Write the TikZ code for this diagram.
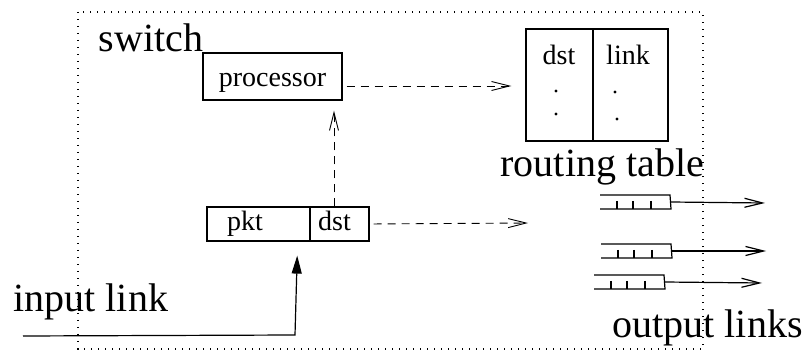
\documentclass[tikz,border=0pt]{standalone}
\usepackage{fontspec}
\setmainfont{Liberation Serif}
\usetikzlibrary{arrows.meta}
\begin{document}
\begin{tikzpicture}[x=0.5pt,y=-0.5pt,
  line width=0.6pt,
  box/.style={draw, inner sep=0pt},
  big/.style={font=\rmfamily\fontsize{20}{24}\selectfont, inner sep=0pt},
  small/.style={font=\rmfamily\fontsize{14}{17}\selectfont, inner sep=0pt},
  dashline/.style={line width=0.45pt, dash pattern=on 4pt off 3pt},
  opentip/.style={-{Straight Barb[length=9pt,width=4.5pt]}},
  frame/.style={line width=0.6pt, dash pattern=on 0.7pt off 2.8pt},
  queue/.pic={
    \draw (0,0) -- (70,0) -- (71,14) -- (0,14);
    \foreach \t in {17,33,51} \draw (\t,6) -- (\t,14);
    \coordinate (-out) at (70.5,7);
  }]
\useasboundingbox (0,0) rectangle (809,352);

% switch enclosure
\draw[frame] (78,12) rectangle (703,349);
\node[big, anchor=base west] (switchlabel) at (98,52) {switch};

% processor
\node[box, minimum width=69.5pt, minimum height=23.5pt] (proc) at (272.5,76.5) {};
\node[small, anchor=base] (proclabel) at (272.5,87) {processor};

% routing table
\node[box, minimum width=71pt, minimum height=56pt] (table) at (597,85) {};
\draw (593,29) -- (593,141);
\node[small, anchor=base] (tdst) at (559,65) {dst};
\node[small, anchor=base] (tlink) at (628,65) {link};
\foreach \p in {(556,91),(556,114),(615,92),(617,119)}
  \fill \p circle (1.6);
\node[big, anchor=base west] (tablelabel) at (500,177) {routing table};

% packet
\node[box, minimum width=51.5pt, minimum height=17pt] (pktcell) at (258.5,224) {};
\node[box, minimum width=29.5pt, minimum height=17pt] (dstcell) at (339.5,224) {};
\node[small, anchor=base] (pktlabel) at (245,231) {pkt};
\node[small, anchor=base] (dstlabel) at (334.5,231) {dst};

% lookups
\draw[dashline, opentip, shorten >=5pt]
  ([xshift=-2.75pt]dstcell.north) -- ([xshift=-2.75pt]dstcell.north |- proc.south);
\draw[dashline, opentip, shorten <=2pt, shorten >=7pt]
  ([yshift=-4.75pt]proc.east) -- ([yshift=-4.75pt]proc.east -| table.west);
\coordinate (fwdend) at (528,223);
\draw[dashline, opentip, shorten <=2pt] (dstcell.east) -- (fwdend);

% input link
\coordinate (inlink) at (23,336);
\coordinate (inbend) at (295,335);
\draw[-{Triangle[length=9pt,width=5pt]}, shorten >=7pt]
  (inlink) -- (inbend) -- ([xshift=-6.5pt]pktcell.south east);
\node[big, anchor=base west] (inlabel) at (13,312) {input link};

% output queues
\pic (q1) at (600,195) {queue};
\pic (q2) at (601,244) {queue};
\pic (q3) at (594,275) {queue};
\coordinate (o1) at (765,203);
\coordinate (o2) at (766,251);
\coordinate (o3) at (762,283);
\draw[opentip] (q1-out) -- (o1);
\draw[opentip] (q2-out) -- (o2);
\draw[opentip] (q3-out) -- (o3);
\node[big, anchor=base west] (outlabel) at (612,337) {output links};
\end{tikzpicture}
\end{document}
